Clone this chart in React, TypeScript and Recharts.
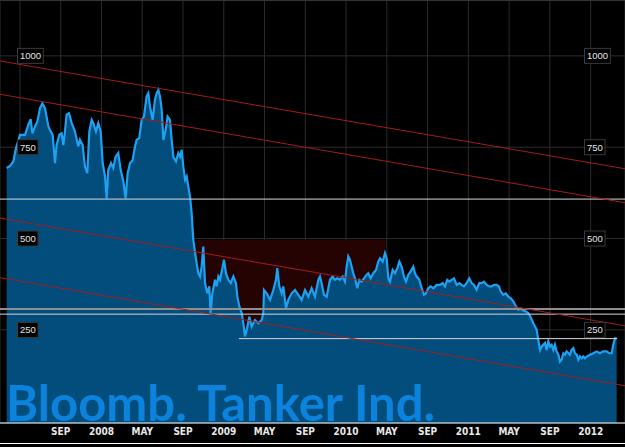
import React from "react";
import {
  AreaChart,
  Area,
  XAxis,
  YAxis,
  CartesianGrid,
  ReferenceLine,
  ReferenceArea,
} from "recharts";

// time in months since Jan 2007 (fractional), index level
const tMonths = [
  2.7, 3.03, 3.35, 3.61, 4.01, 4.5, 4.82, 5.05, 5.22, 5.48, 5.71, 5.97, 6.2, 6.46, 6.79, 6.95, 7.21, 7.44, 7.6, 7.87,
  8.09, 8.26, 8.42, 8.58, 8.81, 9.08, 9.4, 9.73, 9.89, 10.15, 10.38, 10.61, 10.81, 11.04, 11.2, 11.46, 11.69, 11.92,
  12.12, 12.35, 12.51, 12.67, 12.94, 13.16, 13.39, 13.65, 13.88, 14.15, 14.37, 14.57, 14.8, 15.06, 15.29, 15.45,
  15.71, 15.94, 16.17, 16.43, 16.6, 16.76, 17.02, 17.25, 17.42, 17.58, 17.74, 17.91, 18.07, 18.3, 18.49, 18.72,
  18.89, 19.05, 19.31, 19.54, 19.71, 19.87, 20.03, 20.2, 20.36, 20.52, 20.69, 20.85, 21.01, 21.24, 21.34, 21.5,
  21.67, 21.83, 21.99, 22.16, 22.39, 22.58, 22.71, 22.88, 23.14, 23.3, 23.47, 23.63, 23.89, 24.02, 24.22, 24.45,
  24.68, 24.94, 25.2, 25.33, 25.53, 25.76, 25.92, 26.08, 26.25, 26.51, 26.74, 27.06, 27.39, 27.72, 27.88, 27.95,
  28.21, 28.54, 28.86, 29.12, 29.25, 29.45, 29.68, 29.84, 30.11, 30.33, 30.66, 30.99, 31.32, 31.64, 31.97, 32.3,
  32.62, 32.95, 33.28, 33.44, 33.6, 33.83, 34.1, 34.42, 34.68, 34.91, 35.14, 35.4, 35.67, 35.89, 36.06, 36.22,
  36.38, 36.55, 36.71, 36.88, 37.1, 37.3, 37.53, 37.76, 38.02, 38.18, 38.41, 38.67, 38.94, 39.16, 39.33, 39.59,
  39.82, 39.98, 40.15, 40.31, 40.57, 40.8, 41.03, 41.23, 41.45, 41.68, 41.88, 42.11, 42.34, 42.6, 42.76, 42.93,
  43.19, 43.42, 43.65, 43.84, 44.07, 44.3, 44.56, 44.89, 45.22, 45.48, 45.71, 45.93, 46.13, 46.36, 46.59, 46.85,
  47.11, 47.34, 47.57, 47.83, 48.09, 48.32, 48.55, 48.81, 49.07, 49.3, 49.53, 49.79, 50.06, 50.29, 50.51, 50.78,
  51.0, 51.17, 51.43, 51.69, 51.92, 52.15, 52.41, 52.67, 52.9, 53.13, 53.39, 53.65, 53.88, 54.11, 54.37, 54.54,
  54.7, 54.86, 55.03, 55.19, 55.35, 55.52, 55.68, 55.84, 56.01, 56.17, 56.34, 56.5, 56.66, 56.83, 56.99, 57.15,
  57.32, 57.48, 57.64, 57.97, 58.13, 58.3, 58.46, 58.63, 58.79, 58.95, 59.12, 59.28, 59.44, 59.61, 59.93, 60.26,
  60.59, 60.91, 61.24, 61.57, 61.83, 62.06, 62.22, 62.39, 62.55,
];

const tankerIdx = [
  693, 699, 711, 747, 784, 784, 811, 827, 788, 807, 820, 857, 870, 857, 807, 797, 784, 706, 756, 784,
  788, 756, 793, 839, 843, 816, 793, 752, 770, 756, 697, 679, 793, 825, 816, 793, 816, 793,
  706, 670, 610, 688, 706, 693, 724, 734, 688, 656, 610, 679, 706, 715, 752, 770,
  775, 825, 834, 889, 898, 861, 825, 880, 898, 907, 889, 852, 770, 797, 834, 825,
  770, 724, 711, 734, 724, 743, 697, 661, 670, 642, 615, 569, 496, 451, 432, 405,
  396, 423, 478, 378, 350, 369, 296, 350, 387, 369, 396, 387, 423, 442, 405, 387,
  378, 396, 378, 341, 314, 296, 268, 232, 250, 286, 259, 277, 268, 277, 296, 359,
  350, 332, 359, 387, 419, 369, 350, 369, 309, 332, 350, 359, 346, 332, 359, 341,
  364, 341, 387, 396, 378, 346, 341, 387, 396, 387, 391, 387, 396, 382, 423, 451,
  442, 423, 405, 391, 364, 387, 382, 391, 401, 405, 391, 405, 414, 437, 446, 437,
  460, 446, 391, 382, 414, 405, 419, 437, 423, 396, 382, 401, 410, 423, 405, 396,
  387, 364, 346, 350, 364, 369, 364, 373, 373, 378, 369, 387, 382, 387, 391, 373,
  378, 373, 369, 378, 391, 378, 373, 360, 378, 378, 382, 373, 369, 369, 373, 373,
  369, 355, 346, 350, 341, 337, 328, 314, 305, 309, 303, 300, 296, 285, 268, 259,
  250, 223, 195, 204, 209, 214, 195, 218, 204, 209, 195, 209, 191, 182, 163, 168,
  186, 182, 191, 182, 195, 200, 186, 182, 168, 177, 172, 177, 172, 177, 182, 186,
  191, 186, 191, 191, 186, 186, 209, 227, 227,
];

const xTicks = [4, 8, 12, 16, 20, 24, 28, 32, 36, 40, 44, 48, 52, 56, 60];
const xTickLabels = ["", "SEP", "2008", "MAY", "SEP", "2009", "MAY", "SEP", "2010", "MAY", "SEP", "2011", "MAY", "SEP", "2012"];
const yTicks = [250, 500, 750, 1000];

// drawn levels: white support lines and red trend channels
const whiteLevels = [608, 293];
const greyLevels = [307];
const supportLine = { from: 25.49, to: 62.6, level: 226 };
const channelStart = [986, 895, 556, 393];
const channelEnd = [691, 598, 261, 97];
const shadedZone = { from: 21.24, to: 39.82, top: 497 };

const xDomain = [2.044, 63.37];
const yDomain = [-5, 1153];

const W = 625;
const H = 447;

const data = tMonths.map((m, i) => ({ m, v: tankerIdx[i] }));

const tickLabel = (value: number) => {
  const i = xTicks.indexOf(value);
  return i >= 0 ? xTickLabels[i] : "";
};

const YTick = (props: any) => {
  const { y, payload } = props;
  const label = String(payload.value);
  const w = label.length * 5.2 + 5;
  return (
    <g>
      <rect x={17.5} y={y - 7.5} width={w} height={15} fill="#000" stroke="#3a3a3a" />
      <text x={20} y={y + 3.5} fill="#e4e4e4" fontSize={9.5} fontFamily="'Liberation Sans', Arial, sans-serif">
        {label}
      </text>
      <rect x={W - 40.5} y={y - 7.5} width={w} height={15} fill="#000" stroke="#3a3a3a" />
      <text x={W - 38} y={y + 3.5} fill="#e4e4e4" fontSize={9.5} fontFamily="'Liberation Sans', Arial, sans-serif">
        {label}
      </text>
    </g>
  );
};

export default function App() {
  return (
    <div
      style={{
        position: "fixed",
        left: 0,
        top: 0,
        width: W,
        height: H,
        background: "#000",
        overflow: "hidden",
      }}
    >
      <AreaChart width={W} height={H} data={data} margin={{ top: 0, right: 0, bottom: 0, left: 0 }}>
        <CartesianGrid stroke="#2c2c2c" />
        <XAxis
          dataKey="m"
          type="number"
          domain={xDomain}
          ticks={xTicks}
          interval={0}
          allowDataOverflow
          height={24}
          tickLine={false}
          tickSize={0}
          tickMargin={5}
          axisLine={{ stroke: "#ffffff" }}
          tickFormatter={tickLabel}
          tick={{
            fill: "#e8e8e8",
            fontSize: 10,
            fontWeight: "bold",
            fontFamily: "'Liberation Sans Narrow', 'Arial Narrow', 'DejaVu Sans Condensed', sans-serif",
          }}
        />
        <YAxis
          type="number"
          domain={yDomain}
          ticks={yTicks}
          interval={0}
          allowDataOverflow
          width={2}
          mirror
          axisLine={false}
          tickLine={false}
          tick={(p: any) => <YTick {...p} />}
        />
        <ReferenceArea
          x1={shadedZone.from}
          x2={shadedZone.to}
          y1={yDomain[0]}
          y2={shadedZone.top}
          fill="#260303"
          fillOpacity={1}
          stroke="none"
          zIndex={-50}
        />
        <Area
          type="linear"
          dataKey="v"
          stroke="#1da1f2"
          strokeWidth={2.2}
          fill="#024d7c"
          fillOpacity={1}
          baseValue={yDomain[0]}
          isAnimationActive={false}
          dot={false}
          activeDot={false}
        />
        {greyLevels.map((lv) => (
          <ReferenceLine key={"g" + lv} y={lv} stroke="#8f8f8f" strokeWidth={2} />
        ))}
        {whiteLevels.map((lv) => (
          <ReferenceLine key={"w" + lv} y={lv} stroke="#d8d8d8" strokeWidth={1} />
        ))}
        <ReferenceLine
          segment={[
            { x: supportLine.from, y: supportLine.level },
            { x: supportLine.to, y: supportLine.level },
          ]}
          stroke="#d8d8d8"
          strokeWidth={1}
        />
        {channelStart.map((s, i) => (
          <ReferenceLine
            key={"c" + i}
            segment={[
              { x: xDomain[0], y: s },
              { x: xDomain[1], y: channelEnd[i] },
            ]}
            stroke="#a31c1c"
            strokeWidth={1}
            ifOverflow="hidden"
          />
        ))}
      </AreaChart>
      <div style={{ position: "absolute", left: 0, top: 0, width: W, height: 1, background: "#3a342c" }} />
      <div style={{ position: "absolute", left: 0, top: 443, width: W, height: 1, background: "#ffffff" }} />
      <svg width={W} height={H} style={{ position: "absolute", left: 0, top: 0, pointerEvents: "none" }}>
        <text
          x={6}
          y={421}
          fill="#0b82dc"
          fontSize={49}
          fontWeight={700}
          fontFamily="Lato, 'Open Sans', sans-serif"
        >
          Bloomb. Tanker Ind.
        </text>
      </svg>
    </div>
  );
}
